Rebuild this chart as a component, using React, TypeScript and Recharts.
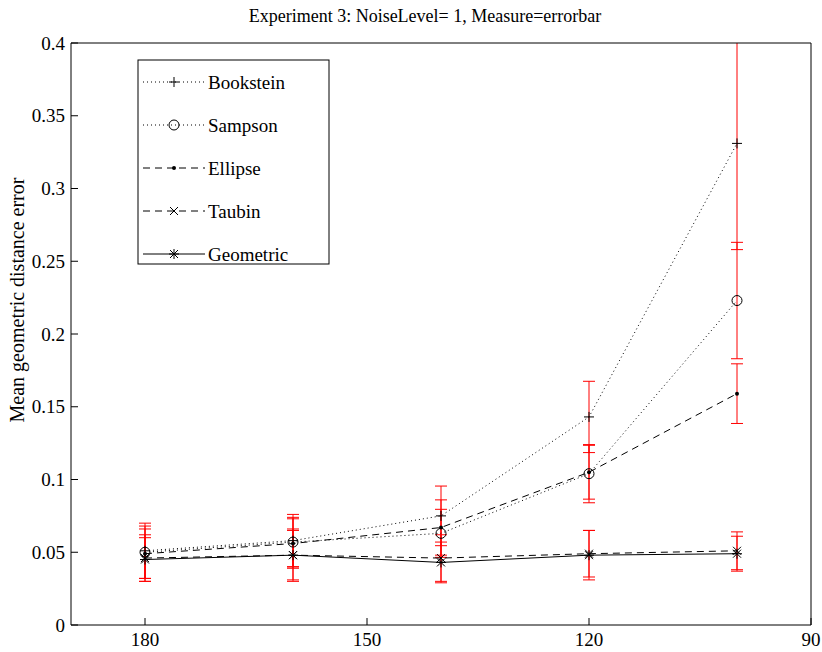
import React from 'react';
import { LineChart, Line, XAxis, YAxis, ErrorBar } from 'recharts';

// arc angle (degrees) for each trial
const angles = [180, 160, 140, 120, 100];

// mean geometric distance error per method, with its error bar half-length
const bookstein = [0.051, 0.058, 0.075, 0.143, 0.331];
const booksteinErr = [0.019, 0.018, 0.0205, 0.0245, 0.073];
const sampson = [0.05, 0.057, 0.063, 0.104, 0.223];
const sampsonErr = [0.018, 0.017, 0.0165, 0.02, 0.04];
const ellipse = [0.049, 0.056, 0.067, 0.105, 0.159];
const ellipseErr = [0.017, 0.017, 0.019, 0.0185, 0.0205];
const taubin = [0.046, 0.048, 0.046, 0.049, 0.051];
const taubinErr = [0.016, 0.018, 0.016, 0.016, 0.013];
const geometric = [0.045, 0.048, 0.043, 0.048, 0.049];
const geometricErr = [0.015, 0.017, 0.014, 0.017, 0.012];

const xTicks = [180, 150, 120, 90];
const yTicks = [0, 0.05, 0.1, 0.15, 0.2, 0.25, 0.3, 0.35, 0.4];

const data = angles.map((angle, i) => ({
  angle,
  bookstein: bookstein[i],
  booksteinErr: booksteinErr[i],
  sampson: sampson[i],
  sampsonErr: sampsonErr[i],
  ellipse: ellipse[i],
  ellipseErr: ellipseErr[i],
  taubin: taubin[i],
  taubinErr: taubinErr[i],
  geometric: geometric[i],
  geometricErr: geometricErr[i],
}));

const W = 822;
const H = 652;
const margin = { top: 38, right: 6, bottom: 0, left: 11 };
const Y_AXIS_W = 60;
const Y2_AXIS_W = 5;
const X_AXIS_H = 27;
const X2_AXIS_H = 5;

// plot frame, used to cut the error bars that run past 0.4
const plot = {
  x: margin.left + Y_AXIS_W,
  y: margin.top + X2_AXIS_H,
  w: W - margin.left - margin.right - Y_AXIS_W - Y2_AXIS_W,
  h: H - margin.top - margin.bottom - X_AXIS_H - X2_AXIS_H,
};

const serif = '"Liberation Serif", "Times New Roman", serif';
const DOTTED = '1 3';
const DASHED = '7 5';

type MarkerKind = 'plus' | 'circle' | 'point' | 'cross' | 'star';

const Marker = ({ kind, cx, cy }: { kind: MarkerKind; cx: number; cy: number }) => {
  const s = 5;
  const d = 4;
  switch (kind) {
    case 'plus':
      return <path d={`M${cx - s},${cy}H${cx + s}M${cx},${cy - s}V${cy + s}`} stroke="#000" fill="none" />;
    case 'circle':
      return <circle cx={cx} cy={cy} r={5} stroke="#000" fill="none" />;
    case 'point':
      return <circle cx={cx} cy={cy} r={2} fill="#000" />;
    case 'cross':
      return (
        <path d={`M${cx - d},${cy - d}L${cx + d},${cy + d}M${cx - d},${cy + d}L${cx + d},${cy - d}`} stroke="#000" fill="none" />
      );
    default:
      return (
        <path
          d={`M${cx - s},${cy}H${cx + s}M${cx},${cy - s}V${cy + s}M${cx - d},${cy - d}L${cx + d},${cy + d}M${cx - d},${cy + d}L${cx + d},${cy - d}`}
          stroke="#000"
          fill="none"
        />
      );
  }
};

const dotOf = (kind: MarkerKind) => (p: any) => (
  <g key={`${kind}-${p.index}`}>
    <Marker kind={kind} cx={p.cx} cy={p.cy} />
  </g>
);

const series: { key: string; err: string; name: string; dash?: string; marker: MarkerKind }[] = [
  { key: 'bookstein', err: 'booksteinErr', name: 'Bookstein', dash: DOTTED, marker: 'plus' },
  { key: 'sampson', err: 'sampsonErr', name: 'Sampson', dash: DOTTED, marker: 'circle' },
  { key: 'ellipse', err: 'ellipseErr', name: 'Ellipse', dash: DASHED, marker: 'point' },
  { key: 'taubin', err: 'taubinErr', name: 'Taubin', dash: DASHED, marker: 'cross' },
  { key: 'geometric', err: 'geometricErr', name: 'Geometric', marker: 'star' },
];

const LegendBox = () => (
  <g>
    <rect x={138} y={60} width={191} height={204} fill="#fff" stroke="#000" />
    {series.map((s, i) => {
      const y = 82 + i * 43;
      return (
        <g key={s.key}>
          <line x1={143} x2={205} y1={y} y2={y} stroke="#000" strokeDasharray={s.dash} />
          <Marker kind={s.marker} cx={174} cy={y} />
          <text x={208} y={y + 6.5} fontFamily={serif} fontSize={19} fill="#000">
            {s.name}
          </text>
        </g>
      );
    })}
  </g>
);

const tickFont = { fill: '#000', fontSize: 19, fontFamily: serif };

export default function App() {
  return (
    <div style={{ position: 'absolute', left: 0, top: 0, background: '#fff' }}>
      <LineChart width={W} height={H} data={data} margin={margin}>
        <defs>
          <clipPath id="plotFrame">
            <rect x={plot.x} y={plot.y} width={plot.w} height={plot.h} />
          </clipPath>
        </defs>
        <XAxis
          dataKey="angle"
          type="number"
          domain={[90, 190]}
          reversed
          allowDataOverflow
          ticks={xTicks}
          height={X_AXIS_H}
          stroke="#000"
          tick={tickFont}
          tickSize={-7}
          tickMargin={15}
        />
        <XAxis
          xAxisId="top"
          orientation="top"
          type="number"
          domain={[90, 190]}
          reversed
          ticks={xTicks}
          height={X2_AXIS_H}
          stroke="#000"
          tick={false}
          tickSize={-7}
        />
        <YAxis
          type="number"
          domain={[0, 0.4]}
          allowDataOverflow
          ticks={yTicks}
          width={Y_AXIS_W}
          stroke="#000"
          tick={tickFont}
          tickSize={-7}
          tickMargin={13}
        />
        <YAxis
          yAxisId="right"
          orientation="right"
          type="number"
          domain={[0, 0.4]}
          ticks={yTicks}
          width={Y2_AXIS_W}
          stroke="#000"
          tick={false}
          tickSize={-7}
        />
        {series.map((s) => (
          <Line
            key={s.key}
            dataKey={s.key}
            stroke="#000"
            strokeWidth={1}
            strokeDasharray={s.dash}
            dot={dotOf(s.marker)}
            activeDot={false}
            isAnimationActive={false}
          >
            <ErrorBar
              dataKey={s.err}
              direction="y"
              width={6}
              stroke="#ff0000"
              strokeWidth={1}
              clipPath="url(#plotFrame)"
            />
          </Line>
        ))}
        <text x={425} y={22} textAnchor="middle" fontFamily={serif} fontSize={18} fill="#000">
          Experiment 3: NoiseLevel= 1, Measure=errorbar
        </text>
        <text transform="translate(24,300) rotate(-90)" textAnchor="middle" fontFamily={serif} fontSize={20} fill="#000">
          Mean geometric distance error
        </text>
        <LegendBox />
      </LineChart>
    </div>
  );
}
